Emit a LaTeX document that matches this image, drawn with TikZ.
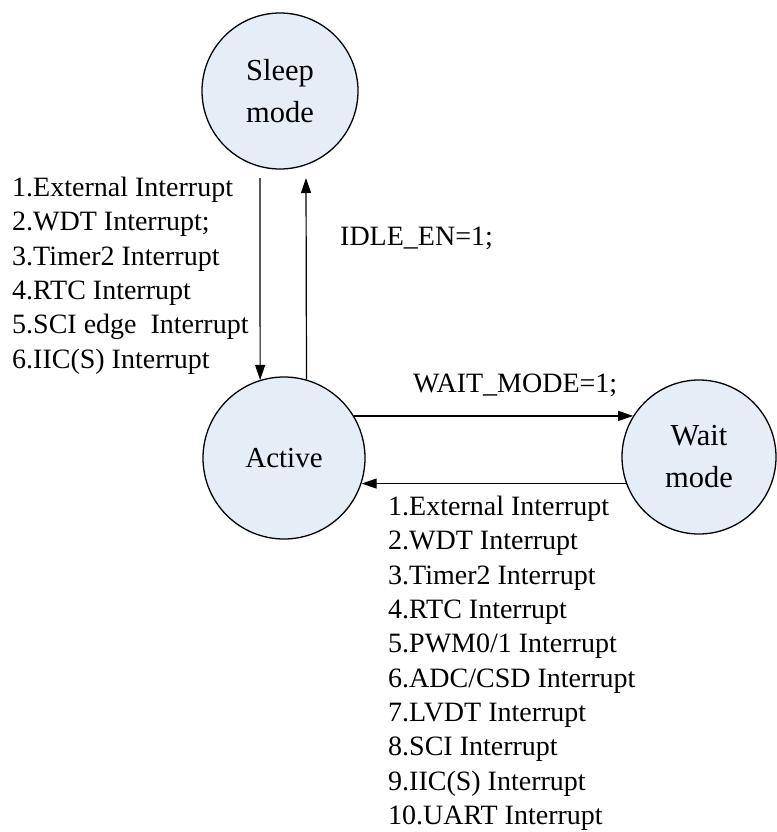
\documentclass[tikz,border=0pt]{standalone}
\usepackage{fontspec}
\setmainfont{Liberation Serif}
\usetikzlibrary{arrows.meta}
\definecolor{statefill}{RGB}{229,237,247}
\tikzset{
  state/.style={circle, draw=black, line width=1.3pt, fill=statefill,
    inner sep=0pt, align=center},
  trans/.style={line width=1.2pt, -{Triangle[length=15pt,width=10pt]}},
  cond/.style={inner sep=0pt, align=left, font=\fontsize{28}{34.3}\selectfont},
}
\begin{document}
\begin{tikzpicture}[x=1pt,y=-1pt]
\useasboundingbox (0,0) rectangle (776,832);

% states
\node[state, minimum size=156pt, font=\fontsize{30.5}{42}\selectfont] (sleep) at (280,91) {Sleep\\mode};
\node[state, minimum size=162pt, font=\fontsize{29}{34}\selectfont] (act) at (284,458) {Active};
\node[state, minimum size=154pt, font=\fontsize{30.5}{42}\selectfont] (wait) at (699,457) {Wait\\mode};

% free ends just below the sleep state
\coordinate (downstart) at (260,178);
\coordinate (upend) at (306,178);

% transitions
\draw[trans] (downstart) -- (act.107);
\draw[trans] (act.74) -- (upend);
\draw[trans] (act.31) -- (act.31 -| wait.148);
\draw[trans] (wait.200) -- (wait.200 -| act.-18);

% conditions
\node[cond, anchor=north west] (wake1) at (12,177) {1.External Interrupt\\2.WDT Interrupt;\\3.Timer2 Interrupt\\4.RTC Interrupt\\5.SCI edge\ \ Interrupt\\6.IIC(S) Interrupt};
\node[cond, anchor=west] (idle) at (340,238) {IDLE\_EN=1;};
\node[cond, anchor=west] (waitcond) at (413,385) {WAIT\_MODE=1;};
\node[cond, anchor=north west] (wake2) at (388,496) {1.External Interrupt\\2.WDT Interrupt\\3.Timer2 Interrupt\\4.RTC Interrupt\\5.PWM0/1 Interrupt\\6.ADC/CSD Interrupt\\7.LVDT Interrupt\\8.SCI Interrupt\\9.IIC(S) Interrupt\\10.UART Interrupt};
\end{tikzpicture}
\end{document}
